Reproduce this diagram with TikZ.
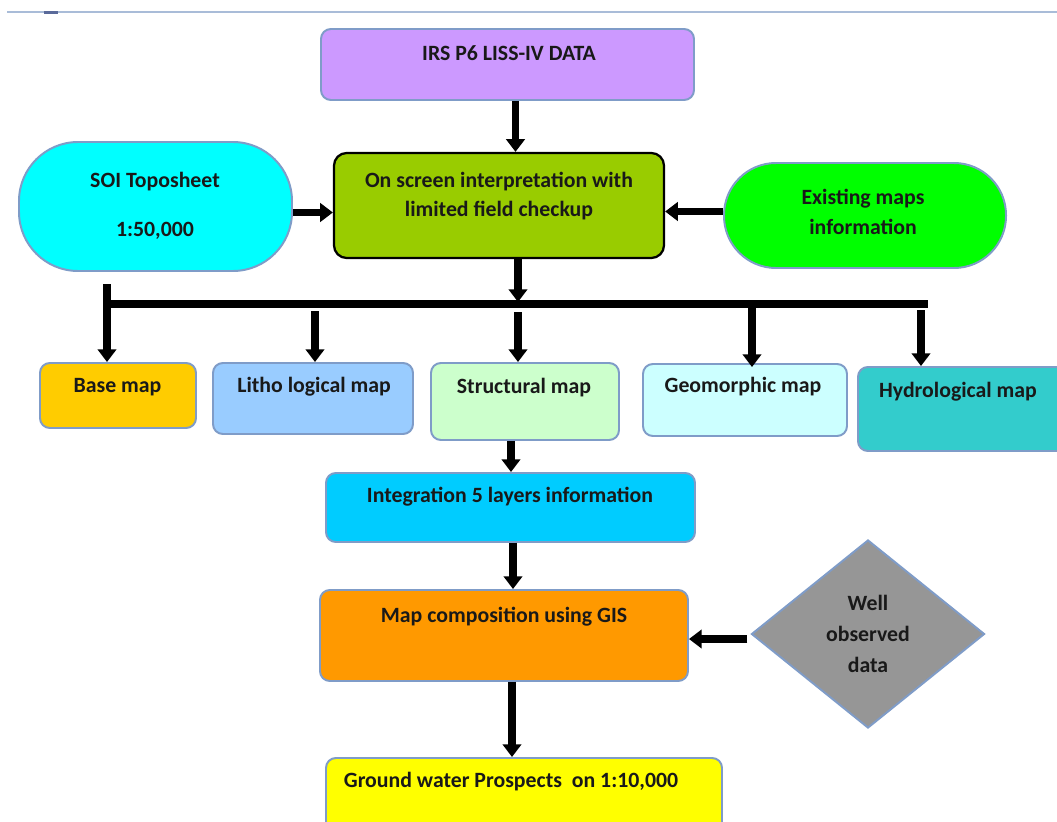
\documentclass[tikz,border=0pt]{standalone}
\usepackage{fontspec}
\setmainfont{Carlito}
\usetikzlibrary{arrows.meta,fit,shapes.geometric,calc}
\definecolor{bordc}{HTML}{7F9CC8}
\definecolor{topln}{HTML}{A9BCD8}
\definecolor{topmk}{HTML}{5A6A9A}
\definecolor{cIRS}{HTML}{CC99FF}
\definecolor{cOS}{HTML}{99CC00}
\definecolor{cSOI}{HTML}{00FFFF}
\definecolor{cEX}{HTML}{00FF00}
\definecolor{cBase}{HTML}{FFCC00}
\definecolor{cLitho}{HTML}{99CCFF}
\definecolor{cStruct}{HTML}{CCFFCC}
\definecolor{cGeo}{HTML}{CCFFFF}
\definecolor{cHydro}{HTML}{33CCCC}
\definecolor{cInteg}{HTML}{00CCFF}
\definecolor{cMap}{HTML}{FF9900}
\definecolor{cWell}{HTML}{969696}
\definecolor{cGround}{HTML}{FFFF00}
\begin{document}
\begin{tikzpicture}[x=0.025cm,y=-0.025cm,
  box/.style={draw=bordc, line width=1.4pt, rounded corners=7pt, inner sep=0pt},
  txt/.style={font=\bfseries\fontsize{15.5}{21}\selectfont, align=center, inner sep=0pt, text=black!90},
  arr/.style={line width=5pt, -{Triangle[width=13pt,length=9pt]}},
  barline/.style={line width=5pt}]
\clip (0,0) rectangle (1057,821);
\fill[white] (0,0) rectangle (1057,821);
% top rule
\coordinate (tl0) at (7,12);
\coordinate (tl1) at (1057,12);
\coordinate (tm0) at (44,12.5);
\coordinate (tm1) at (58,12.5);
\draw[topln, line width=1.2pt] (tl0) -- (tl1);
\draw[topmk, line width=1.5pt] (tm0) -- (tm1);
% boxes
\node[box, fill=cIRS, fit={(321,29)(694,100)}] (irs) {};
\node[box, draw=black, line width=1.6pt, rounded corners=9pt, fill=cOS, fit={(334,153)(664,258)}] (os) {};
\node[box, fill=cSOI, rounded corners=42pt, fit={(19,142)(292,271)}] (soi) {};
\node[box, fill=cEX, rounded corners=37pt, fit={(724,163)(1006,268)}] (ex) {};
\node[box, fill=cBase, fit={(40,363)(196,428)}] (base) {};
\node[box, fill=cLitho, fit={(213,363)(413,434)}] (litho) {};
\node[box, fill=cStruct, fit={(431,363)(619,440)}] (struct) {};
\node[box, fill=cGeo, fit={(643,364)(847,436)}] (geo) {};
\node[box, fill=cHydro, fit={(858,367)(1070,451)}] (hydro) {};
\node[box, fill=cInteg, fit={(326,473)(695,542)}] (integ) {};
\node[box, fill=cMap, fit={(320,590)(688,681)}] (mapc) {};
\node[box, fill=cGround, fit={(326,758)(722,840)}] (ground) {};
\node[diamond, draw=bordc, line width=1.4pt, fill=cWell, inner sep=0pt,
      minimum width=5.825cm, minimum height=4.7cm, txt,
      font=\bfseries\fontsize{15.5}{22}\selectfont] (well) at (868,634) {Well\\observed\\data};
% texts
\node[txt] (tirs) at (509,53) {IRS P6 LISS-IV DATA};
\node[txt] (tos) at (499,196) {On screen interpretation with\\limited field checkup};
\node[txt] (tsoi) at (155,206) {SOI Toposheet\\[14pt]1:50,000};
\node[txt] (tex) at (863,212) {Existing maps\\information};
\node[txt] (tbase) at (117.5,387) {Base map};
\node[txt] (tlitho) at (314,387) {Litho logical map};
\node[txt] (tstruct) at (524,388) {Structural map};
\node[txt] (tgeo) at (743,387) {Geomorphic map};
\node[txt] (thydro) at (958,392) {Hydrological map};
\node[txt] (tinteg) at (510,497) {Integration 5 layers information};
\node[txt] (tmapc) at (504,617) {Map composition using GIS};
\node[txt] (tground) at (511,782) {Ground water Prospects~ on 1:10,000};
% connectors
\coordinate (p1) at ($(irs.south)+(8,0)$);
\draw[arr] (p1) -- (p1 |- os.north);
\coordinate (p2) at ($(soi.east)+(0,6)$);
\draw[arr] (p2) -- (p2 -| os.west);
\coordinate (p3) at ($(ex.west)+(0,-4)$);
\draw[arr] (p3) -- (p3 -| os.east);
\coordinate (bL) at (107,304);
\coordinate (bR) at (928,304);
\coordinate (p4) at ($(os.south)+(19,0)$);
\draw[barline] (bL) -- (bR);
\draw[arr] (p4) -- ($(p4 |- bL)+(0,-2)$);
\coordinate (d1) at (107,284);
\coordinate (d2) at (315,311);
\coordinate (d3) at (518,312);
\coordinate (d4) at (752,307);
\coordinate (d5) at (921,310);
\draw[arr] (d1) -- (d1 |- base.north);
\draw[arr] (d2) -- (d2 |- litho.north);
\draw[arr] (d3) -- (d3 |- struct.north);
\draw[arr] (d4) -- ($(d4 |- geo.north)+(0,4)$);
\draw[arr] (d5) -- (d5 |- hydro.north);
\coordinate (p5) at (511,0);
\draw[arr] (p5 |- struct.south) -- (p5 |- integ.north);
\coordinate (p6) at (513,0);
\draw[arr] (p6 |- integ.south) -- (p6 |- mapc.north);
\coordinate (p7) at (512,0);
\draw[arr] (p7 |- mapc.south) -- (p7 |- ground.north);
\coordinate (p8) at ($(well.west)+(-3,5)$);
\draw[arr] (p8) -- (p8 -| mapc.east);
\end{tikzpicture}
\end{document}
